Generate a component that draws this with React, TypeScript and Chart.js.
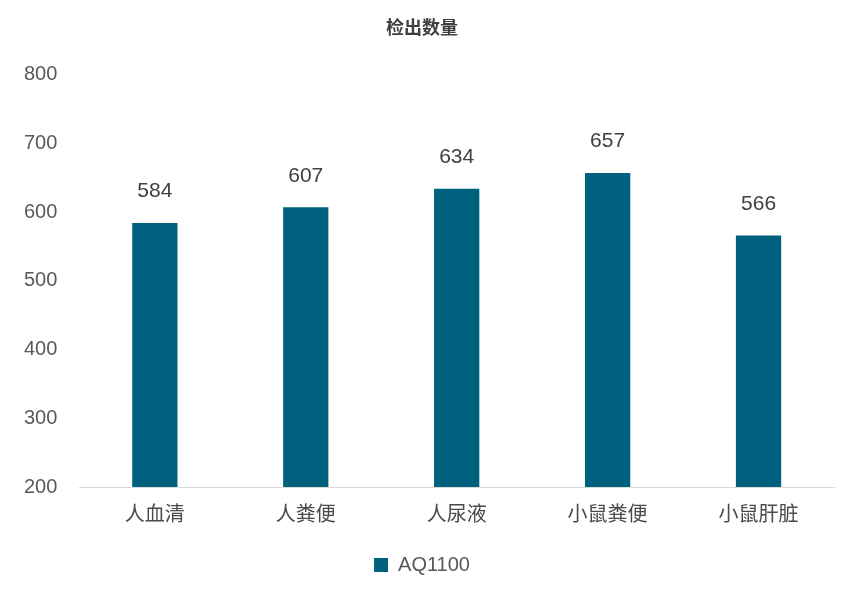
import { useEffect, useRef } from "react";
import { Chart, registerables } from "chart.js";
import type { Plugin } from "chart.js";

Chart.register(...registerables);

const categories = ["人血清", "人粪便", "人尿液", "小鼠粪便", "小鼠肝脏"];
const seriesName = "AQ1100";
const counts = [584, 607, 634, 657, 566];

const FONT = "'Liberation Sans', 'Noto Sans CJK SC', sans-serif";
const TEXT = "#595959";

const valueLabels: Plugin<"bar"> = {
  id: "valueLabels",
  afterDatasetsDraw(chart) {
    const { ctx } = chart;
    const meta = chart.getDatasetMeta(0);
    ctx.save();
    ctx.font = `21px ${FONT}`;
    ctx.fillStyle = "#404040";
    ctx.textAlign = "center";
    ctx.textBaseline = "bottom";
    meta.data.forEach((bar, i) => {
      ctx.fillText(String(counts[i]), bar.x, bar.y - 21);
    });
    ctx.restore();
  },
};

export default function App() {
  const canvasRef = useRef<HTMLCanvasElement>(null);
  const chartRef = useRef<Chart | null>(null);

  useEffect(() => {
    if (!canvasRef.current) return;
    if (chartRef.current) chartRef.current.destroy();

    chartRef.current = new Chart(canvasRef.current, {
      type: "bar",
      data: {
        labels: categories,
        datasets: [
          {
            label: seriesName,
            data: counts,
            backgroundColor: "#00617f",
            barPercentage: 0.6,
            categoryPercentage: 0.5,
          },
        ],
      },
      options: {
        animation: false,
        responsive: false,
        layout: { padding: { left: 10, right: 16, top: 4, bottom: 8 } },
        plugins: {
          title: {
            display: true,
            text: "检出数量",
            color: "#404040",
            font: { family: FONT, size: 18, weight: "bold" },
            padding: { top: 14, bottom: 35 },
          },
          legend: {
            position: "bottom",
            labels: {
              color: TEXT,
              font: { family: FONT, size: 20 },
              boxWidth: 14,
              boxHeight: 14,
              padding: 20,
            },
          },
          tooltip: { enabled: false },
        },
        scales: {
          x: {
            grid: { display: false },
            border: { color: "#d9d9d9", width: 1 },
            ticks: { color: "#4a4a4a", font: { family: FONT, size: 20 }, padding: 8 },
          },
          y: {
            min: 200,
            max: 800,
            grid: { display: false },
            border: { display: false },
            ticks: {
              stepSize: 100,
              color: TEXT,
              font: { family: FONT, size: 20 },
              padding: 14,
            },
          },
        },
      },
      plugins: [valueLabels],
    });

    return () => {
      if (chartRef.current) {
        chartRef.current.destroy();
        chartRef.current = null;
      }
    };
  }, []);

  return (
    <div style={{ position: "absolute", left: 0, top: 0, width: 850, height: 593, background: "#fff" }}>
      <canvas ref={canvasRef} width={850} height={593} />
    </div>
  );
}
